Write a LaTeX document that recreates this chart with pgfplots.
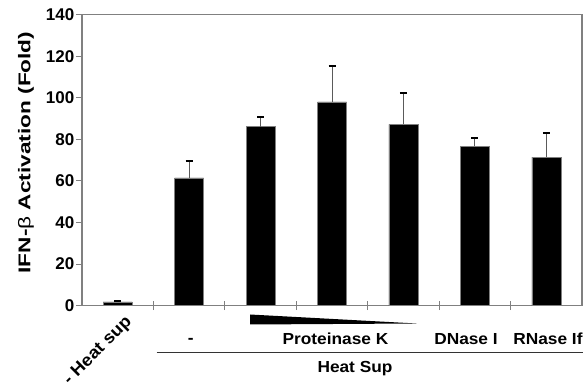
\documentclass[border=0pt]{standalone}
\usepackage{graphicx}
\usepackage{pgfplots}
\pgfplotsset{compat=1.18}
\usepackage{fontspec}
\setmainfont{Liberation Sans}
\definecolor{axgray}{RGB}{128,128,128}
\newcommand{\lbl}[1]{\fontsize{16}{18}\selectfont\bfseries\scalebox{1.08}[1]{#1}}
\begin{document}
\begin{tikzpicture}[x=1pt,y=1pt]
\useasboundingbox (0,0) rectangle (584,385);
\begin{axis}[
  at={(82pt,79.3pt)}, anchor=south west,
  scale only axis, width=500pt, height=291pt,
  xmin=-0.5, xmax=6.5, ymin=0, ymax=140,
  ytick={0,20,...,140},
  xtick=\empty,
  extra x ticks={0.5,1.5,...,5.5},
  extra x tick labels={},
  extra x tick style={tick align=center, major tick length=9pt},
  tick align=outside, major tick length=6pt,
  tick pos=left,
  axis line style={axgray, line width=1.3pt},
  every tick/.style={axgray, line width=1pt},
  /pgf/number format/assume math mode=true,
  yticklabel style={font=\fontsize{17}{19}\selectfont\bfseries, inner sep=1pt, xshift=-0.5pt},
  clip=false,
]
\addplot[ybar, bar width=29pt, fill=black, draw=axgray, line width=0.5pt,
  error bars/.cd, y dir=plus, y explicit,
  error bar style={axgray!70!black, line width=0.9pt},
  error mark options={rotate=90, mark size=3.5pt, line width=1.8pt, black}]
  table[x=x, y=y, y error=e] {
x y e
0 1.8 0.5
1 61.5 8.2
2 86.2 4.4
3 98.0 17.4
4 87.2 15.1
5 76.8 3.7
6 71.5 11.5
};
\end{axis}
% y label
\node[rotate=90, inner sep=0pt] at (26, 385-152.5) {\fontsize{17}{19}\selectfont\bfseries\scalebox{1.33}[1]{IFN-{\mdseries β} Activation (Fold)}};
% x labels
\node[rotate=45, anchor=north east, inner sep=0pt] at (124, 385-314) {\fontsize{17}{19}\selectfont\bfseries\scalebox{1.08}[1]{- Heat sup}};
\node[inner sep=0pt] at (190.7, 385-341) {\lbl{-}};
\node[inner sep=0pt] at (335.5, 385-339) {\lbl{Proteinase K}};
\node[inner sep=0pt] at (466, 385-339) {\lbl{DNase I}};
\node[inner sep=0pt] at (548, 385-339) {\lbl{RNase If}};
\node[inner sep=0pt] at (355, 385-369) {\lbl{Heat Sup}};
\draw[black!80, line width=1.3pt] (156.7, 385-352.7) -- (583, 385-352.7);
\fill[black] (250, 385-314.5) -- (416.7, 385-323.5) -- (250, 385-324.5) -- cycle;
\end{tikzpicture}
\end{document}
